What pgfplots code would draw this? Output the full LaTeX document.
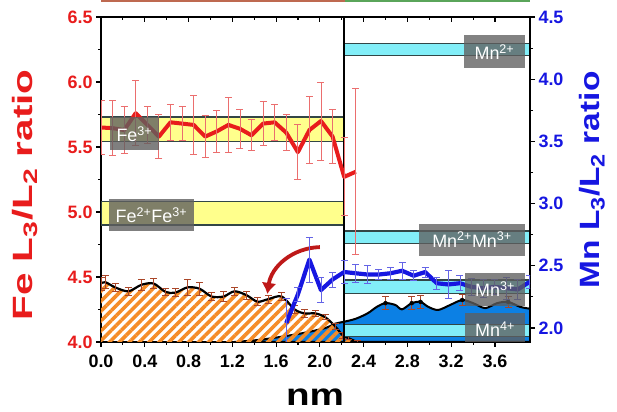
\documentclass[border=0pt]{standalone}
\usepackage{graphicx}
\usepackage{pgfplots}
\pgfplotsset{compat=1.18}
\usepackage{fontspec}
\setmainfont{Liberation Sans}
\usetikzlibrary{patterns.meta,arrows.meta}
\definecolor{fered}{RGB}{232,28,28}
\definecolor{mnblue}{RGB}{22,22,225}
\definecolor{bandyellow}{RGB}{255,255,140}
\definecolor{bandcyan}{RGB}{130,238,248}
\definecolor{bandedge}{RGB}{50,70,70}
\definecolor{hatchorange}{RGB}{245,140,40}
\definecolor{areablue}{RGB}{12,128,228}
\definecolor{boxgray}{RGB}{95,95,95}
\definecolor{rederr}{RGB}{235,110,110}
\definecolor{blueerr}{RGB}{100,100,230}
\definecolor{arrowred}{RGB}{190,25,25}
\definecolor{capbrown}{RGB}{170,70,40}
\tikzset{boxtext/.style={text=white, font=\fontsize{18}{18}\selectfont}}
\pgfplotsset{
 mn/.style={y filter/.expression={4+(y-1.8875)*0.956938}},
 common/.style={at={(101bp,70bp)}, anchor=south west, scale only axis,
   width=429bp, height=325bp, xmin=0, xmax=3.92,
   /pgf/number format/assume math mode=true,
   /pgf/number format/fixed,
   /pgf/number format/fixed zerofill,
   /pgf/number format/precision=1,
   major tick length=5bp, minor tick length=3bp,
   tick style={black, line width=1.1bp},
   axis line style={line width=1.4bp},
   xtick={0,0.4,0.8,1.2,1.6,2.0,2.4,2.8,3.2,3.6}, minor x tick num=1,
   tick label style={font=\fontsize{18}{18}\selectfont\bfseries},
   xticklabel style={yshift=-4bp},
 },
 errb/.style={error bars/.cd, y dir=both, y explicit,
   error bar style={line width=0.8bp, color=#1},
   error mark options={rotate=90, mark size=3.5bp, line width=0.8bp, color=#1}},
}
\begin{document}
\begin{tikzpicture}
\useasboundingbox (0,0) rectangle (617bp,412bp);
% artifact line at top
\draw[line width=1.5bp, color={rgb,255:red,190;green,105;blue,80}] (101bp,411bp) -- (345bp,411bp);
\draw[line width=1.5bp, color={rgb,255:red,90;green,165;blue,90}] (345bp,411bp) -- (530bp,411bp);
\begin{axis}[common, ymin=4, ymax=6.5, ytick={4,4.5,5,5.5,6,6.5}, minor y tick num=1,
  xtick pos=left, ytick pos=left, tick align=outside, yticklabel style={text=fered}]
% Mn area (blue), Mn units
\addplot[mn, fill=areablue, draw=black, line width=2bp, smooth] coordinates {
 (1.22,1.8875)(1.45,1.905)(1.65,1.93)(1.85,1.96)(2.05,2.0)(2.14,2.035)(2.22,2.05)
 (2.33,2.075)(2.44,2.12)(2.52,2.17)(2.60,2.20)(2.69,2.185)(2.75,2.15)(2.84,2.20)
 (2.92,2.21)(2.99,2.17)(3.08,2.145)(3.19,2.185)(3.30,2.225)(3.40,2.20)(3.51,2.16)
 (3.62,2.20)(3.72,2.21)(3.83,2.17)(3.92,2.155)} \closedcycle;
\addplot[mn, only marks, mark=none, errb=capbrown] coordinates {
 (2.60,2.20)+-(0,0.05)(2.84,2.20)+-(0,0.05)(2.92,2.21)+-(0,0.05)(3.30,2.225)+-(0,0.04)(3.72,2.21)+-(0,0.04)};
% Fe area (orange hatch)
\addplot[draw=none, pattern={Lines[angle=45,distance=7bp,line width=3.6bp]}, pattern color=hatchorange, smooth] coordinates {
 (0.00,4.45)(0.04,4.46)(0.13,4.42)(0.25,4.39)(0.37,4.44)(0.48,4.45)(0.59,4.385)(0.68,4.38)
 (0.79,4.42)(0.90,4.41)(1.01,4.35)(1.12,4.35)(1.22,4.39)(1.33,4.36)(1.43,4.31)(1.53,4.33)
 (1.65,4.35)(1.77,4.25)(1.86,4.22)(1.96,4.22)(2.05,4.19)(2.14,4.12)(2.21,4.05)(2.26,4.03)(2.34,4.00)} \closedcycle;
\addplot[black, line width=2.2bp, smooth, errb=capbrown] coordinates {
 (0.00,4.45)+-(0,0.05)(0.04,4.46)+-(0,0.05)(0.13,4.42)+-(0,0.03)(0.25,4.39)+-(0,0.03)
 (0.37,4.44)+-(0,0.04)(0.48,4.45)+-(0,0.04)(0.59,4.385)+-(0,0.03)(0.68,4.38)+-(0,0.03)
 (0.79,4.42)+-(0,0.06)(0.90,4.41)+-(0,0.05)(1.01,4.35)+-(0,0.03)(1.12,4.35)+-(0,0.04)
 (1.22,4.39)+-(0,0.03)(1.33,4.36)+-(0,0.03)(1.43,4.31)+-(0,0.03)(1.53,4.33)+-(0,0.03)
 (1.65,4.35)+-(0,0.03)(1.77,4.25)+-(0,0.03)(1.86,4.22)+-(0,0.03)(1.96,4.22)+-(0,0.02)
 (2.05,4.19)+-(0,0.02)(2.14,4.12)+-(0,0.02)(2.21,4.05)+-(0,0.02)(2.26,4.03)+-(0,0.01)(2.34,4.00)+-(0,0.01)};
% Fe reference bands
\addplot[fill=bandyellow, draw=bandedge, line width=1.2bp] coordinates {(0,5.54)(2.22,5.54)(2.22,5.73)(0,5.73)} -- cycle;
\addplot[fill=bandyellow, draw=bandedge, line width=1.2bp] coordinates {(0,4.90)(2.22,4.90)(2.22,5.08)(0,5.08)} -- cycle;
% Mn reference bands (Mn units)
\addplot[mn, fill=bandcyan, draw=bandedge, line width=1.2bp] coordinates {(2.22,4.19)(3.92,4.19)(3.92,4.29)(2.22,4.29)} -- cycle;
\addplot[mn, fill=bandcyan, draw=bandedge, line width=1.2bp] coordinates {(2.22,2.68)(3.92,2.68)(3.92,2.78)(2.22,2.78)} -- cycle;
\addplot[mn, fill=bandcyan, draw=bandedge, line width=1.2bp] coordinates {(2.22,2.28)(3.92,2.28)(3.92,2.386)(2.22,2.386)} -- cycle;
\addplot[mn, fill=bandcyan, draw=bandedge, line width=1.2bp] coordinates {(2.22,1.93)(3.92,1.93)(3.92,2.03)(2.22,2.03)} -- cycle;
% interface line
\addplot[black, line width=1.8bp] coordinates {(2.22,4)(2.22,6.5)};
% Fe L3/L2 ratio
\addplot[color=fered, line width=4bp, line join=round, errb=rederr] coordinates {
 (0.000,5.65)+-(0,0.21)(0.106,5.645)+-(0,0.21)(0.212,5.63)+-(0,0.18)(0.317,5.76)+-(0,0.25)
 (0.423,5.67)+-(0,0.14)(0.529,5.58)+-(0,0.17)(0.635,5.69)+-(0,0.14)(0.741,5.68)+-(0,0.13)
 (0.846,5.67)+-(0,0.23)(0.952,5.58)+-(0,0.16)(1.058,5.62)+-(0,0.16)(1.164,5.67)+-(0,0.21)
 (1.270,5.64)+-(0,0.15)(1.375,5.59)+-(0,0.12)(1.481,5.68)+-(0,0.17)(1.587,5.69)+-(0,0.14)
 (1.693,5.61)+-(0,0.14)(1.799,5.46)+-(0,0.21)(1.904,5.63)+-(0,0.26)(2.010,5.70)+-(0,0.30)
 (2.116,5.58)+-(0,0.21)(2.222,5.27)+-(0,0.30)(2.328,5.31)+-(0,0.64)};
% Fe labels
\fill[boxgray, opacity=0.8] (axis cs:0.08,5.48) rectangle (axis cs:0.53,5.73);
\node[boxtext] at (axis cs:0.305,5.60) {Fe\textsuperscript{3+}};
\fill[boxgray, opacity=0.8] (axis cs:0.07,4.85) rectangle (axis cs:0.85,5.10);
\node[boxtext] at (axis cs:0.46,4.975) {Fe\textsuperscript{2+}Fe\textsuperscript{3+}};
% arrow
\draw[line width=3.8bp, color=arrowred, -{Latex[length=11bp,width=15bp]}] (axis cs:2.0,4.73) to[bend right=40] (axis cs:1.52,4.37);
\end{axis}
\begin{axis}[common, ymin=1.8875, ymax=4.5, axis y line*=right, axis x line=none,
  ytick={2,2.5,3,3.5,4,4.5}, minor y tick num=1, tick align=outside, yticklabel style={text=mnblue}]
\addplot[color=mnblue, line width=4.2bp, line join=round, errb=blueerr] coordinates {
 (1.693,2.04)+-(0,0.20)(1.799,2.27)+-(0,0.06)(1.904,2.55)+-(0,0.18)(2.010,2.305)+-(0,0.10)
 (2.116,2.39)+-(0,0.06)(2.222,2.45)+-(0,0.09)(2.328,2.44)+-(0,0.07)(2.433,2.43)+-(0,0.07)
 (2.539,2.43)+-(0,0.04)(2.645,2.44)+-(0,0.05)(2.751,2.46)+-(0,0.07)(2.857,2.42)+-(0,0.04)
 (2.962,2.45)+-(0,0.04)(3.068,2.36)+-(0,0.05)(3.174,2.35)+-(0,0.11)(3.280,2.36)+-(0,0.06)
 (3.386,2.33)+-(0,0.07)(3.491,2.32)+-(0,0.07)(3.597,2.33)+-(0,0.06)(3.703,2.32)+-(0,0.09)
 (3.809,2.31)+-(0,0.08)(3.915,2.37)+-(0,0.05)};
\fill[boxgray, opacity=0.78] (axis cs:3.32,4.09) rectangle (axis cs:3.87,4.355);
\node[boxtext] at (axis cs:3.595,4.22) {Mn\textsuperscript{2+}};
\fill[boxgray, opacity=0.78] (axis cs:2.91,2.58) rectangle (axis cs:3.87,2.84);
\node[boxtext] at (axis cs:3.39,2.71) {Mn\textsuperscript{2+}Mn\textsuperscript{3+}};
\fill[boxgray, opacity=0.78] (axis cs:3.33,2.18) rectangle (axis cs:3.87,2.44);
\node[boxtext] at (axis cs:3.60,2.31) {Mn\textsuperscript{3+}};
\fill[boxgray, opacity=0.78] (axis cs:3.33,1.86) rectangle (axis cs:3.87,2.12);
\node[boxtext] at (axis cs:3.60,1.99) {Mn\textsuperscript{4+}};
\end{axis}
\begin{axis}[common, ymin=0, ymax=1, axis x line*=top, axis y line=none, tick align=inside, xticklabel=\empty]
\end{axis}
\node[rotate=90, text=fered, font=\fontsize{28}{28}\selectfont\bfseries] at (25bp,217bp) {\scalebox{1.45}[1]{Fe L\textsubscript{3}/L\textsubscript{2} ratio}};
\node[rotate=90, text=mnblue, font=\fontsize{28}{28}\selectfont\bfseries] at (592bp,232bp) {\scalebox{1.2}[1]{Mn L\textsubscript{3}/L\textsubscript{2} ratio}};
\node[font=\fontsize{31}{31}\selectfont\bfseries, inner sep=0pt] at (315bp,15bp) {\scalebox{1.25}[1]{nm}};
\end{tikzpicture}
\end{document}
